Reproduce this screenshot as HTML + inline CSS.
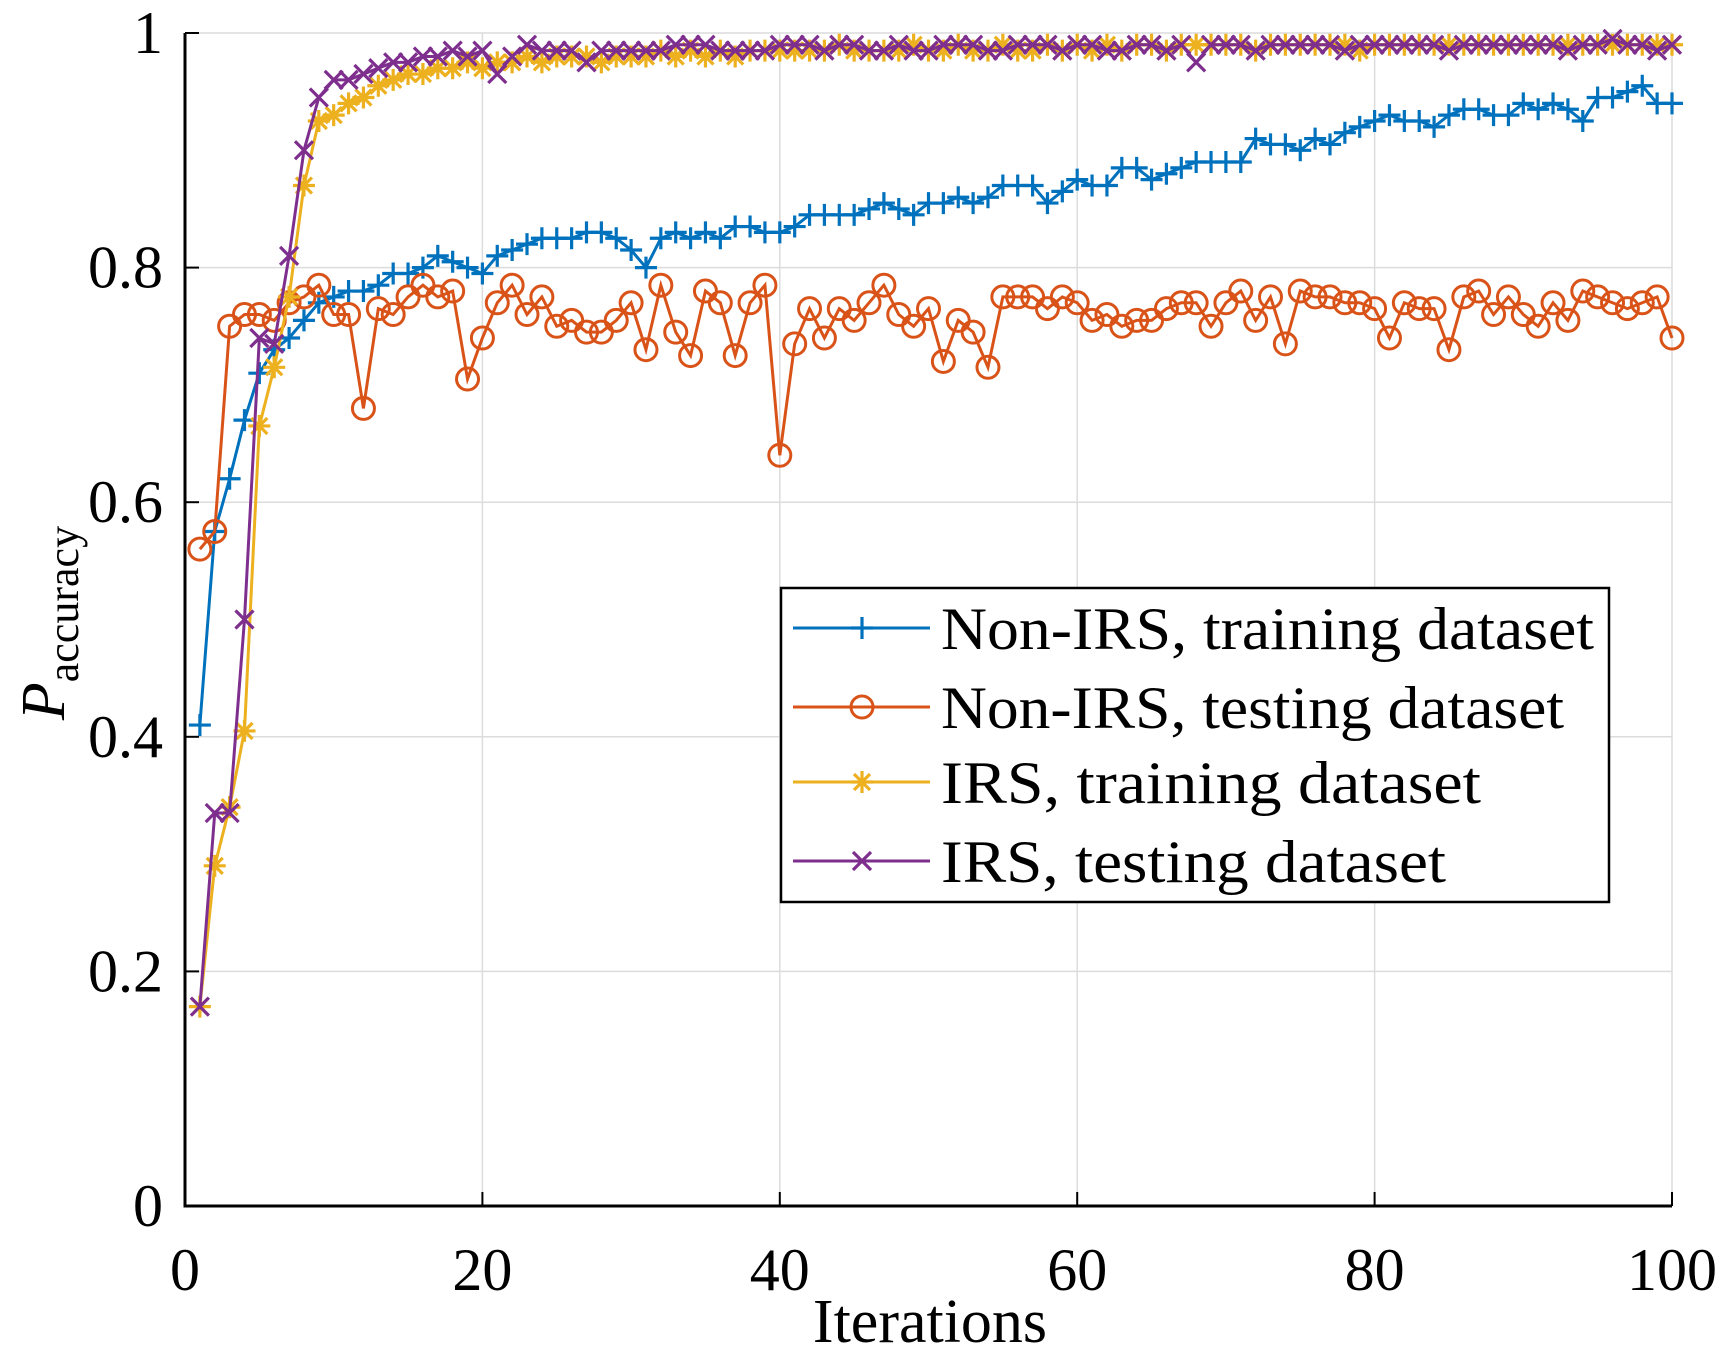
<!DOCTYPE html>
<html><head><meta charset="utf-8"><style>
html,body{margin:0;padding:0;background:#fff}
svg{display:block}
text{font-family:"Liberation Serif",serif;fill:#000}
</style></head><body>
<svg id="chart" width="1729" height="1355" viewBox="0 0 1729 1355">
<g id="grid"></g>
<g id="series"></g>
<g id="axes"></g>
<g id="legend"></g>
</svg>
<script>
const xTicks=[0,20,40,60,80,100];
const yTicks=[0,0.2,0.4,0.6,0.8,1];
const yTickLabels=["0","0.2","0.4","0.6","0.8","1"];
const nonIrsTrain=[0.41,0.575,0.62,0.67,0.71,0.73,0.74,0.755,0.77,0.775,0.78,0.78,0.785,0.795,0.795,0.80,0.81,0.805,0.80,0.795,0.81,0.815,0.82,0.825,0.825,0.825,0.83,0.83,0.825,0.815,0.80,0.825,0.83,0.825,0.83,0.825,0.835,0.835,0.83,0.83,0.835,0.845,0.845,0.845,0.845,0.85,0.855,0.85,0.845,0.855,0.855,0.86,0.855,0.86,0.87,0.87,0.87,0.855,0.865,0.875,0.87,0.87,0.885,0.885,0.875,0.88,0.885,0.89,0.89,0.89,0.89,0.91,0.905,0.905,0.9,0.91,0.905,0.915,0.92,0.925,0.93,0.925,0.925,0.92,0.93,0.935,0.935,0.93,0.93,0.94,0.935,0.94,0.935,0.925,0.945,0.945,0.95,0.955,0.94,0.94];
const nonIrsTest=[0.56,0.575,0.75,0.76,0.76,0.755,0.77,0.775,0.785,0.76,0.76,0.68,0.765,0.76,0.775,0.785,0.775,0.78,0.705,0.74,0.77,0.785,0.76,0.775,0.75,0.755,0.745,0.745,0.755,0.77,0.73,0.785,0.745,0.725,0.78,0.77,0.725,0.77,0.785,0.64,0.735,0.765,0.74,0.765,0.755,0.77,0.785,0.76,0.75,0.765,0.72,0.755,0.745,0.715,0.775,0.775,0.775,0.765,0.775,0.77,0.755,0.76,0.75,0.755,0.755,0.765,0.77,0.77,0.75,0.77,0.78,0.755,0.775,0.735,0.78,0.775,0.775,0.77,0.77,0.765,0.74,0.77,0.765,0.765,0.73,0.775,0.78,0.76,0.775,0.76,0.75,0.77,0.755,0.78,0.775,0.77,0.765,0.77,0.775,0.74];
const irsTrain=[0.17,0.29,0.34,0.405,0.665,0.715,0.775,0.87,0.925,0.93,0.94,0.945,0.955,0.96,0.965,0.965,0.97,0.97,0.975,0.97,0.975,0.975,0.98,0.975,0.98,0.98,0.98,0.975,0.98,0.98,0.98,0.985,0.98,0.985,0.98,0.985,0.98,0.985,0.985,0.985,0.985,0.985,0.985,0.99,0.985,0.985,0.985,0.985,0.99,0.985,0.985,0.99,0.985,0.985,0.99,0.985,0.985,0.99,0.985,0.99,0.985,0.99,0.985,0.99,0.99,0.985,0.99,0.99,0.99,0.99,0.99,0.985,0.99,0.99,0.99,0.99,0.99,0.99,0.985,0.99,0.99,0.99,0.99,0.99,0.99,0.99,0.99,0.99,0.99,0.99,0.99,0.99,0.99,0.99,0.99,0.99,0.99,0.99,0.99,0.99];
const irsTest=[0.17,0.335,0.335,0.50,0.74,0.735,0.81,0.90,0.945,0.96,0.96,0.965,0.97,0.975,0.975,0.98,0.98,0.985,0.98,0.985,0.965,0.98,0.99,0.985,0.985,0.985,0.975,0.985,0.985,0.985,0.985,0.985,0.99,0.99,0.99,0.985,0.985,0.985,0.985,0.99,0.99,0.99,0.985,0.99,0.99,0.985,0.985,0.99,0.985,0.985,0.99,0.99,0.99,0.985,0.985,0.99,0.99,0.99,0.985,0.99,0.99,0.985,0.985,0.99,0.99,0.985,0.99,0.975,0.99,0.99,0.99,0.985,0.99,0.99,0.99,0.99,0.99,0.985,0.99,0.99,0.99,0.99,0.99,0.99,0.985,0.99,0.99,0.99,0.99,0.99,0.99,0.99,0.985,0.99,0.99,0.995,0.99,0.99,0.985,0.99];
const seriesNames=["Non-IRS, training dataset","Non-IRS, testing dataset","IRS, training dataset","IRS, testing dataset"];

const NS="http://www.w3.org/2000/svg";
const L=185,R=1672,T=33,B=1206;
const xs=v=>L+(v-0)/(100-0)*(R-L);
const ys=v=>B-(v-0)/(1-0)*(B-T);
function mk(tag,attrs,parent){const e=document.createElementNS(NS,tag);for(const k in attrs)e.setAttribute(k,attrs[k]);parent.appendChild(e);return e;}
const grid=document.getElementById('grid'),axes=document.getElementById('axes'),ser=document.getElementById('series'),leg=document.getElementById('legend');

xTicks.forEach(t=>{
  const g=mk('line',{x1:xs(t),x2:xs(t),y1:T,y2:B,stroke:'#dcdcdc','stroke-width':1.5},grid);
  
  
  const tk=mk('line',{x1:xs(t),x2:xs(t),y1:B,y2:B-14,stroke:'#000','stroke-width':2},axes);
  
  
  const lb=mk('text',{x:xs(t),y:1290,'font-size':60,'text-anchor':'middle'},axes);
  lb.textContent=t;
  
  
});
yTicks.forEach((t,i)=>{
  const g=mk('line',{x1:L,x2:R,y1:ys(t),y2:ys(t),stroke:'#dcdcdc','stroke-width':1.5},grid);
  
  
  const tk=mk('line',{x1:L,x2:L+14,y1:ys(t),y2:ys(t),stroke:'#000','stroke-width':2},axes);
  
  
  const lb=mk('text',{x:163,y:ys(t)+20,'font-size':60,'text-anchor':'end'},axes);
  lb.textContent=yTickLabels[i];
  
  
});
const ax=mk('path',{d:`M${L},${T} L${L},${B} L${R},${B}`,fill:'none',stroke:'#000','stroke-width':3},axes);


const xt=mk('text',{x:930,y:1342,'font-size':62,'text-anchor':'middle'},axes);
xt.textContent='Iterations';


const yt=mk('text',{transform:'translate(64,623) rotate(-90)','font-size':62,'text-anchor':'middle'},axes);
yt.innerHTML='<tspan font-style="italic">P</tspan><tspan font-size="44" dy="14">accuracy</tspan>';



function marker(type,x,y,c,parent){
  const s=11;
  if(type==='plus')return mk('path',{d:`M${x-s},${y}H${x+s}M${x},${y-s}V${y+s}`,stroke:c,'stroke-width':3.2,fill:'none'},parent);
  if(type==='circle')return mk('circle',{cx:x,cy:y,r:s,stroke:c,'stroke-width':3,fill:'none'},parent);
  if(type==='star')return mk('path',{d:`M${x-s},${y}H${x+s}M${x},${y-s}V${y+s}M${x-8},${y-8}L${x+8},${y+8}M${x-8},${y+8}L${x+8},${y-8}`,stroke:c,'stroke-width':3.2,fill:'none'},parent);
  return mk('path',{d:`M${x-9},${y-9}L${x+9},${y+9}M${x-9},${y+9}L${x+9},${y-9}`,stroke:c,'stroke-width':3.2,fill:'none'},parent);
}
const defs=[[nonIrsTrain,'#0072BD','plus','non-irs-training'],[nonIrsTest,'#D95319','circle','non-irs-testing'],[irsTrain,'#EDB120','star','irs-training'],[irsTest,'#7E2F8E','x','irs-testing']];
defs.forEach(([data,c,m,name])=>{
  const g=mk('g',{},ser);
  
  
  const pts=data.map((v,i)=>[xs(i+1),ys(v)]);
  const p=mk('polyline',{points:pts.map(p=>p.join(',')).join(' '),fill:'none',stroke:c,'stroke-width':3},g);
  
  
  pts.forEach(([x,y])=>{const e=marker(m,x,y,c,g);
    
    });
});

const box=mk('rect',{x:781,y:588,width:828,height:314,fill:'#fff',stroke:'#000','stroke-width':2.5},leg);


const rowY=[628,707,782,861];
const textLen=[653,623,540,505];
defs.forEach(([d,c,m,name],i)=>{
  const y=rowY[i];
  const g=mk('g',{},leg);
  
  
  mk('line',{x1:793,x2:930,y1:y,y2:y,stroke:c,'stroke-width':3},g);
  marker(m,862,y,c,g);
  const t=mk('text',{x:941,y:y+21,'font-size':60,textLength:textLen[i],lengthAdjust:'spacingAndGlyphs'},g);
  t.textContent=seriesNames[i];
  
  
});
</script>
</body></html>
